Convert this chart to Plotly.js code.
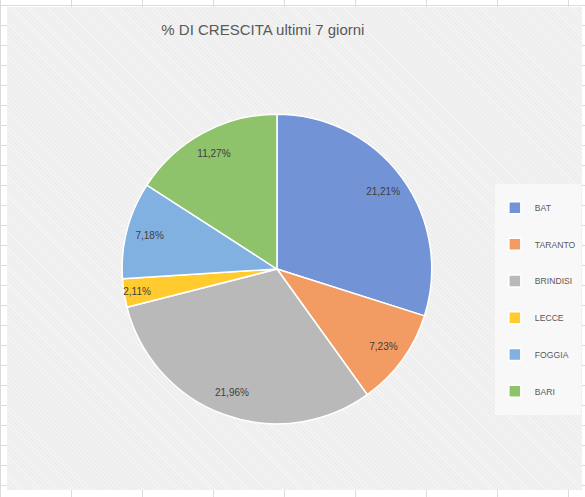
<!DOCTYPE html>
<html>
<head>
<meta charset="utf-8">
<script src="https://cdn.plot.ly/plotly-3.0.1.min.js"></script>
<style>
  html, body { margin:0; padding:0; }
  body {
    width:585px; height:497px; overflow:hidden; position:relative;
    background-color:#ffffff;
    background-image:
      linear-gradient(to right, #dcdcdc 1px, transparent 1px),
      linear-gradient(to bottom, #dcdcdc 1px, transparent 1px);
    background-size: 71px 20px, 71px 20px;
    background-position: 0 0, 0 5px;
  }
  #frame {
    position:absolute; left:7px; top:7px; width:575px; height:483px;
    background-color:#eeeeee;
    background-image: repeating-linear-gradient(45deg, rgba(255,255,255,0.35) 0 1px, transparent 1px 3px);
  }
  #chart { width:575px; height:483px; }
</style>
</head>
<body>
<div id="frame"><div id="chart"></div></div>
<script>
// Data
const categories = ["BAT", "TARANTO", "BRINDISI", "LECCE", "FOGGIA", "BARI"];
const growthPct = [21.21, 7.23, 21.96, 2.11, 7.18, 11.27];
const sliceColors = ["#7293d6", "#f29c63", "#b9b9b9", "#ffcb2e", "#80b1e0", "#8ec26b"];
const chartTitle = "% DI CRESCITA ultimi 7 giorni";

const font = "Liberation Sans, Arial, sans-serif";
const legendLabels = categories.map(c => "<br>" + c + "<br>&nbsp;");

const dom = { x: [0.2, 0.739], y: [0.137, 0.778] };

const pieMain = {
  type: "pie",
  labels: legendLabels,
  values: growthPct,
  sort: false,
  direction: "clockwise",
  rotation: 0,
  domain: dom,
  marker: { colors: sliceColors, line: { color: "#ffffff", width: 1.5 } },
  textinfo: "none",
  hoverinfo: "label+value",
  showlegend: true
};

// transparent ring used only to place the value labels near the outer edge
const pieLabels = {
  type: "pie",
  labels: legendLabels,
  values: growthPct,
  sort: false,
  direction: "clockwise",
  rotation: 0,
  domain: dom,
  hole: 0.7,
  marker: { colors: categories.map(() => "rgba(0,0,0,0)"), line: { width: 0 } },
  texttemplate: "%{value:.2f}%",
  textposition: "inside",
  insidetextorientation: "horizontal",
  textfont: { family: font, size: 10, color: "#404040" },
  hoverinfo: "skip",
  showlegend: false
};

const layout = {
  width: 575, height: 483,
  margin: { l: 0, r: 0, t: 0, b: 0 },
  paper_bgcolor: "rgba(0,0,0,0)",
  separators: ",.",
  uniformtext: { minsize: 10, mode: "show" },
  title: {
    text: chartTitle,
    font: { family: font, size: 15, color: "#595959" },
    x: 0.445, xanchor: "center",
    y: 0.952, yanchor: "middle"
  },
  legend: {
    x: 0.998, xanchor: "right",
    y: 0.633, yanchor: "top",
    bgcolor: "#f8f8f8",
    borderwidth: 0,
    font: { family: font, size: 8.65, color: "#595959" },
    itemwidth: 30,
    traceorder: "normal"
  },
  showlegend: true
};

Plotly.newPlot("chart", [pieMain, pieLabels], layout, { displayModeBar: false, staticPlot: true });
</script>
</body>
</html>
